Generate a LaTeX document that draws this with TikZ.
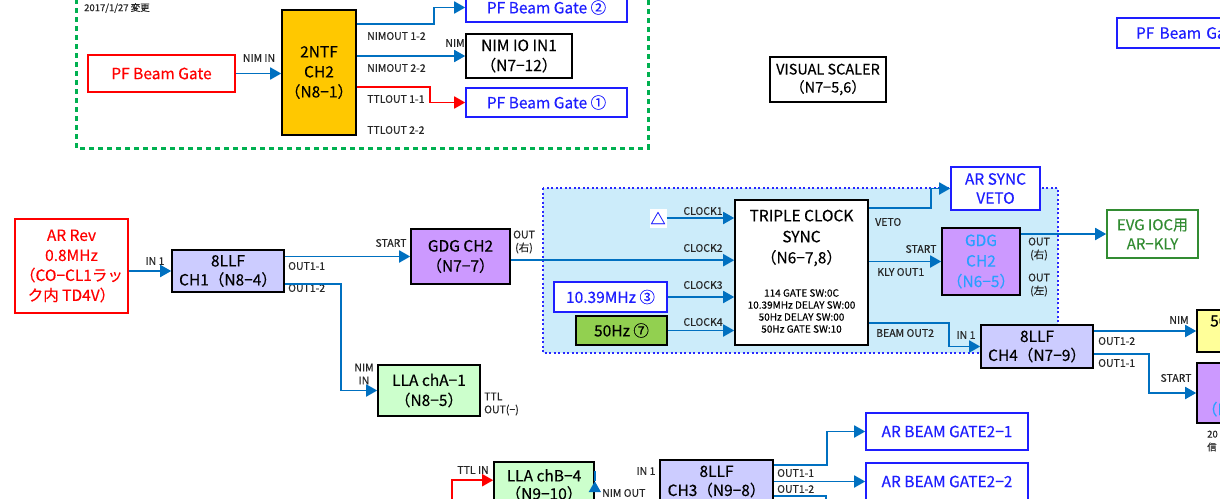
\documentclass[tikz,border=0pt]{standalone}
\usepackage{fontspec}
\setmainfont[FakeBold=0.35]{Noto Sans CJK JP}
\usetikzlibrary{arrows.meta,calc}
\definecolor{lineblue}{RGB}{0,112,192}
\definecolor{boxblue}{RGB}{30,30,255}
\definecolor{dashgreen}{RGB}{0,176,80}
\definecolor{evggreen}{RGB}{50,140,50}
\definecolor{ntforange}{RGB}{255,200,0}
\definecolor{lav}{RGB}{204,204,255}
\definecolor{purp}{RGB}{204,153,255}
\definecolor{lgreen}{RGB}{204,255,204}
\definecolor{fgreen}{RGB}{146,208,80}
\definecolor{regcyan}{RGB}{204,236,250}
\definecolor{regborder}{RGB}{40,40,255}
\definecolor{gdgtext}{RGB}{40,160,255}
\definecolor{lyellow}{RGB}{255,255,153}
\newcommand\myfs[2]{\fontsize{#1}{#2}\selectfont}
\tikzset{
  box/.style={draw, line width=1.6pt, inner sep=0pt, align=center, font=\myfs{15.5}{20}},
  redbox/.style={box, draw=red, text=red, fill=white},
  bluebox/.style={box, draw=boxblue, text=boxblue, fill=white},
  blkbox/.style={box, draw=black, fill=white},
  lbl/.style={inner sep=0pt, font=\myfs{10.5}{13}, text=black!85, align=center},
  lblw/.style={lbl, anchor=west, align=left},
  conn/.style={draw=lineblue, line width=1.8pt},
  rconn/.style={draw=red, line width=1.8pt},
  arr/.style={-{Triangle[length=11pt,width=12pt]}},
}
\begin{document}
\begin{tikzpicture}[x=1pt,y=-1pt]
\useasboundingbox (0,0) rectangle (1220,498);
% green dashed group
\draw[dashgreen, line width=3pt, dash pattern=on 5pt off 4pt] (76,-10) rectangle (648,148);
% blue region
\draw[regborder, fill=regcyan, line width=1.5pt, dash pattern=on 2pt off 2.5pt] (543,188) rectangle (1058,353);

% ---------- top group ----------
\node[lblw, font=\myfs{9.5}{12}] (date) at (84,8) {2017/1/27 変更};
\node[redbox, minimum width=147pt, minimum height=37pt] (pfg) at (161.5,73.5) {PF Beam Gate};
\node[box, fill=ntforange, minimum width=74pt, minimum height=125pt] (ntf) at (319,72.5) {2NTF\\CH2\\（N8−1）};
\node[bluebox, minimum width=161pt, minimum height=29pt] (pfb2) at (546.5,7.5) {PF Beam Gate ②};
\node[blkbox, minimum width=106pt, minimum height=44pt] (nimio) at (519,56) {NIM IO IN1\\（N7−12）};
\node[bluebox, minimum width=161pt, minimum height=29pt] (pfb1) at (546.5,102.5) {PF Beam Gate ①};
\node[lbl] (lnimin) at (259,58) {NIM IN};
\node[lblw] (lno12) at (367,36) {NIMOUT 1-2};
\node[lbl] (lnim) at (455,43) {NIM};
\node[lblw] (lno22) at (367,68) {NIMOUT 2-2};
\node[lblw] (lto11) at (367,99) {TTLOUT 1-1};
\node[lblw] (lto22) at (367,130) {TTLOUT 2-2};
\draw[conn, arr] (pfg.east) -- (pfg.east -| ntf.west);
\draw[conn, arr] ($(ntf.north east)+(0,15)$) -- ++(77,0) |- (pfb2.west);
\draw[conn, arr] (nimio.west -| ntf.east) -- (nimio.west);
\draw[rconn, arr] ($(ntf.north east)+(0,78)$) -- ++(73,0) |- (pfb1.west);

\node[blkbox, font=\myfs{14.5}{18}, minimum width=116pt, minimum height=45pt] (vis) at (828,79.5) {VISUAL SCALER\\（N7−5,6）};
\node[bluebox, minimum width=161pt, minimum height=30pt, text width=123pt, align=left] (pfr) at (1197.5,33) {PF Beam Gate};

% ---------- middle ----------
\node[redbox, minimum width=113pt, minimum height=94pt] (ar) at (71.5,266) {AR Rev\\0.8MHz\\（CO−CL1ラッ\\ク内 TD4V）};
\node[box, fill=lav, minimum width=112pt, minimum height=42pt, font=\myfs{15.5}{19}] (llf1) at (228,271) {8LLF\\CH1（N8−4）};
\node[box, fill=purp, minimum width=99pt, minimum height=55pt] (gdg1) at (460.5,256.5) {GDG CH2\\（N7−7）};
\node[box, fill=lgreen, minimum width=102pt, minimum height=51pt] (llaA) at (429,390.5) {LLA chA−1\\（N8−5）};
\node[lbl] (lin1) at (155,261) {IN 1};
\node[lblw] (lo11) at (288,266) {OUT1-1};
\node[lblw] (lo12) at (288,288) {OUT1-2};
\node[lbl] (lstart1) at (391,243) {START};
\node[lbl] (lout1) at (524,242) {OUT\\(右)};
\node[lbl] (lnimin2) at (364,374) {NIM\\IN};
\node[lblw] (lttl) at (484,404) {TTL\\OUT(−)};
\draw[conn, arr] (llf1.west -| ar.east) -- (llf1.west);
\draw[conn, arr] (gdg1.west -| llf1.east) -- (gdg1.west);
\draw[conn, arr] ($(llf1.south east)+(0,-9)$) -- ++(56,0) |- (llaA.west);

% region contents
\node[fill=white, inner sep=0pt, minimum width=17pt, minimum height=19pt, text=boxblue, font=\myfs{15}{16}] (tri) at (658,218) {△};
\node[bluebox, minimum width=113pt, minimum height=30pt] (f1039) at (610.5,297) {10.39MHz ③};
\node[box, fill=fgreen, minimum width=91pt, minimum height=29pt] (f50) at (621.5,330.5) {50Hz ⑦};
\node[blkbox, minimum width=133pt, minimum height=145pt] (tcs) at (801.5,272.5) {};
\node[inner sep=0pt, align=center, font=\myfs{15.5}{21}] (tcst) at (801.5,238) {TRIPLE CLOCK\\SYNC\\（N6−7,8）};
\node[inner sep=0pt, align=center, font=\myfs{10}{12}] (tcss) at (801.5,311) {114 GATE SW:0C\\10.39MHz DELAY SW:00\\50Hz DELAY SW:00\\50Hz GATE SW:10};
\coordinate (c2) at ($(tcs.north west)+(0,61)$);
\node[lbl] (lck1) at (703,211) {CLOCK1};
\node[lbl] (lck2) at (703,248) {CLOCK2};
\node[lbl] (lck3) at (703,285) {CLOCK3};
\node[lbl] (lck4) at (703,322) {CLOCK4};
\draw[conn, arr] (gdg1.east |- c2) -- (c2);
\draw[conn, arr] (tri.east) -- (tri.east -| tcs.west);
\draw[conn, arr] (f1039.east) -- (f1039.east -| tcs.west);
\draw[conn, arr] (f50.east) -- (f50.east -| tcs.west);

\node[bluebox, minimum width=89pt, minimum height=43pt, font=\myfs{15.5}{19}] (arsv) at (995.5,188.5) {AR SYNC\\VETO};
\node[box, fill=purp, text=gdgtext, minimum width=78pt, minimum height=67pt, font=\myfs{15.5}{20.5}] (gdg2) at (981,261.5) {GDG\\CH2\\（N6−5）};
\node[box, draw=evggreen, text=evggreen, fill=white, minimum width=91pt, minimum height=48pt, font=\myfs{15}{19}] (evg) at (1152.5,234) {EVG IOC用\\AR−KLY};
\node[box, fill=lav, minimum width=112pt, minimum height=43pt, font=\myfs{15.5}{19}] (llf4) at (1037,346.5) {8LLF\\CH4（N7−9）};
\node[box, fill=lyellow, minimum width=63pt, minimum height=42pt] (ylw) at (1228.5,331) {};
\node[inner sep=0pt, anchor=west, font=\myfs{15.5}{16}] (ylwt) at (1210,321) {50};
\node[box, fill=purp, text=gdgtext, minimum width=78pt, minimum height=60pt, font=\myfs{15.5}{17}] (gdg3) at (1236,393) {GDG\\CH1\\（N6−6）};
\node[lblw, font=\myfs{9.5}{13}] (ldate2) at (1207,441) {20\\信};
\node[lblw] (lveto) at (875,222) {VETO};
\node[lbl] (lstart2) at (921,249) {START};
\node[lblw] (lkly) at (877,272) {KLY OUT1};
\node[lbl] (lout2) at (1039,249) {OUT\\(右)};
\node[lbl] (lout3) at (1039,285) {OUT\\(左)};
\node[lblw] (lbo2) at (876,333) {BEAM OUT2};
\node[lbl] (lin4) at (966,335) {IN 1};
\node[lblw] (l4o12) at (1098,341) {OUT1-2};
\node[lblw] (l4o11) at (1098,363) {OUT1-1};
\node[lbl] (lnim4) at (1179,320) {NIM};
\node[lbl] (lstart4) at (1176,378) {START};
\draw[conn, arr] ($(tcs.north east)+(0,9)$) -- ++(62,0) |- (arsv.west);
\draw[conn, arr] (gdg2.west -| tcs.east) -- (gdg2.west);
\draw[conn, arr] (evg.west -| gdg2.east) -- (evg.west);
\draw[conn, arr] ($(tcs.south east)+(0,-23)$) -- ++(80,0) |- (llf4.west);
\draw[conn, arr] (ylw.west -| llf4.east) -- (ylw.west);
\draw[conn, arr] ($(llf4.south east)+(0,-15)$) -- ++(55,0) |- (gdg3.west);

% ---------- bottom ----------
\node[bluebox, minimum width=162pt, minimum height=37pt] (abg1) at (947,431.5) {AR BEAM GATE2−1};
\node[bluebox, minimum width=162pt, minimum height=37pt] (abg2) at (947,481.5) {AR BEAM GATE2−2};
\node[box, fill=lav, minimum width=113pt, minimum height=43pt, font=\myfs{15.5}{19}] (llf3) at (716.5,481.5) {8LLF\\CH3（N9−8）};
\node[box, fill=lgreen, minimum width=100pt, minimum height=53pt] (llaB) at (544,488.5) {};
\node[inner sep=0pt, align=center, font=\myfs{15.5}{18}] (llaBt) at (544,485) {LLA chB−4\\（N9−10）};
\coordinate (redin) at (452,520);
\coordinate (c3) at (826,520);
\node[lbl] (lttlin) at (473,470) {TTL IN};
\node[lblw] (lnimout) at (602,493) {NIM OUT};
\node[lbl] (lin3) at (646,471) {IN 1};
\node[lblw] (l3o11) at (777,473) {OUT1-1};
\node[lblw] (l3o12) at (777,489) {OUT1-2};
\draw[rconn, arr] (redin) |- ($(llaB.north west)+(0,19)$);
\draw[conn, arr] ($(llaB.north east)+(0,20)$) -- ($(llaB.north east)+(0,20)$ -| llf3.west);
\draw[conn, arr] ($(llf3.north east)+(0,5.5)$) -- ++(53,0) |- (abg1.west);
\draw[conn, arr] (abg2.west -| llf3.east) -- (abg2.west);
\draw[conn] ($(llf3.north east)+(0,37)$) -| (c3);
\end{tikzpicture}
\end{document}
